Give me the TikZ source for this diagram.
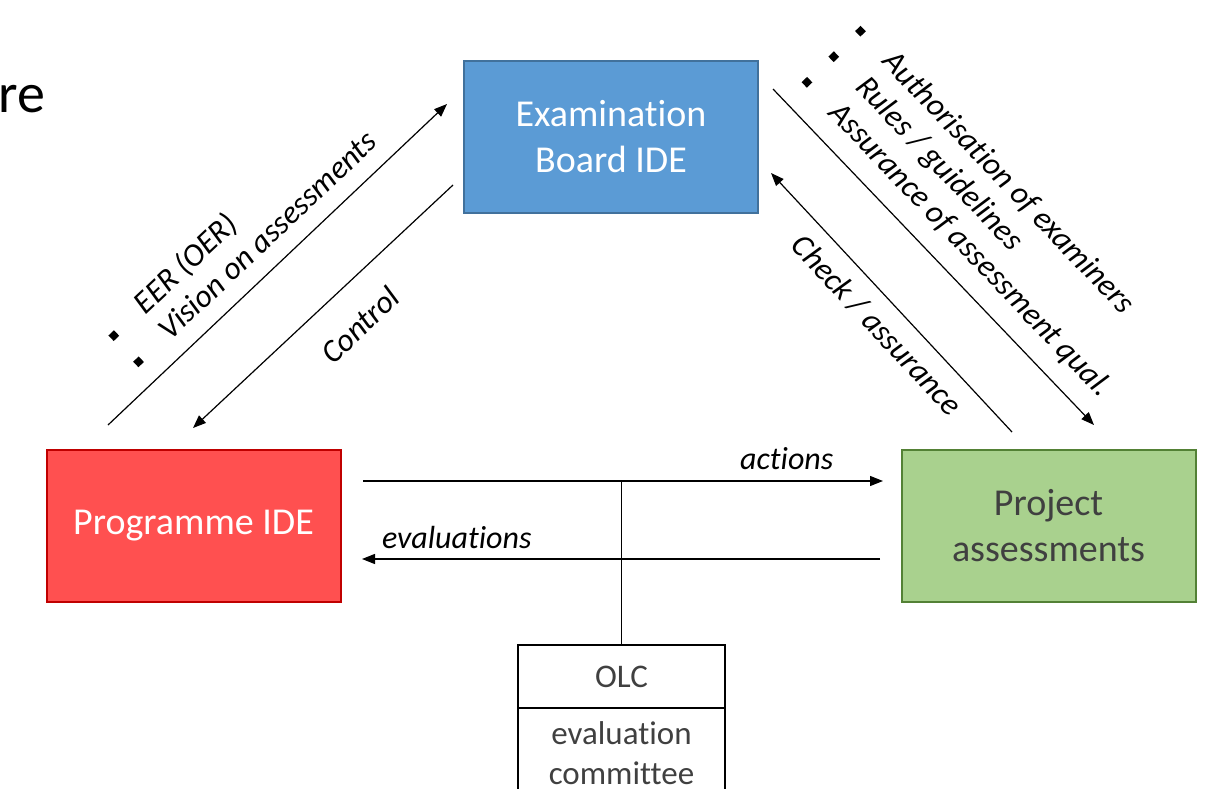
\documentclass[tikz,border=0pt]{standalone}
\usepackage{fontspec}
\setmainfont{Carlito}[Ligatures=NoCommon]
\usetikzlibrary{arrows.meta}

\definecolor{boardblue}{HTML}{5B9BD5}
\definecolor{boardline}{HTML}{41719C}
\definecolor{progred}{HTML}{FF5050}
\definecolor{progline}{HTML}{C00000}
\definecolor{projgreen}{HTML}{A9D18E}
\definecolor{projline}{HTML}{538135}
\definecolor{textgray}{HTML}{404040}

\newcommand{\bul}{\makebox[20.5pt][l]{\rule[1.6pt]{3.8pt}{3.8pt}}}

\begin{document}
\begin{tikzpicture}[x=0.5pt, y=-0.5pt, >={Triangle[length=6.5pt,width=5pt]},
    box/.style={draw, line width=1pt, minimum width=147pt, minimum height=76pt, inner sep=0pt, align=center, font=\fontsize{19}{23}\selectfont},
    olcbox/.style={draw, line width=1.2pt, minimum width=103.5pt, inner sep=0pt, outer sep=0pt, align=center, text=textgray, font=\fontsize{16.5}{20}\selectfont},
    lbl/.style={inner sep=0pt, font=\fontsize{16}{18}\selectfont\itshape},
    arr/.style={line width=0.6pt}]
    \useasboundingbox (0,0) rectangle (1214,788);
    \clip (0,0) rectangle (1214,788);
    \node[anchor=base west, inner sep=0pt, font=\fontsize{28}{30}\selectfont] (re) at (-2,112) {re}; % cut-off title

    % boxes
    \node[box, draw=boardline, fill=boardblue, text=white] (board) at (611,136.5) {Examination\\Board IDE};
    \node[box, draw=progline, fill=progred, text=white] (prog) at (193.5,526) {Programme IDE};
    \node[box, draw=projline, fill=projgreen, text=textgray] (proj) at (1048.5,526) {Project\\assessments};
    \node[olcbox, minimum height=31.5pt] (olc) at (621.5,676.5) {OLC};
    \node[olcbox, minimum height=45pt, anchor=north] (olcsub) at (olc.south) {evaluation\\committee};

    % arrow ends
    \coordinate (visA) at (108,425);  \coordinate (visB) at (447,104);
    \coordinate (ctlA) at (453,185);  \coordinate (ctlB) at (193,428);
    \coordinate (rulA) at (773,89);   \coordinate (rulB) at (1094,425);
    \coordinate (chkA) at (1012,432); \coordinate (chkB) at (771,173);
    \coordinate (actA) at (363,481);  \coordinate (actB) at (883,481);
    \coordinate (evaA) at (880,559);  \coordinate (evaB) at (362,559);
    \coordinate (junc) at (621.5,481);

    \draw[arr][->] (visA) -- (visB); % EER, vision
    \draw[arr][->] (ctlA) -- (ctlB); % control
    \draw[arr][->] (rulA) -- (rulB); % rules
    \draw[arr][->] (chkA) -- (chkB); % check
    \draw[arr][->] (actA) -- node[lbl, above=5.5pt, pos=0.815] (actlbl) {actions} (actB);
    \draw[arr][->] (evaA) -- node[lbl, above=5pt, pos=0.817] (evalbl) {evaluations} (evaB);
    \draw[arr] (olc.north) -- (junc); % link to OLC

    % sloped labels
    \node[lbl, rotate=43.4, anchor=base west] (eerlbl) at (115.6,343.6) {\bul EER (OER)};
    \node[lbl, rotate=43.4, anchor=base west] (vislbl) at (140.3,369.8) {\bul Vision on assessments};
    \node[lbl, rotate=43.4] (ctllbl) at (360,325) {Control};
    \node[lbl, rotate=-46.3, anchor=base west] (authlbl) at (852.5,33) {\bul Authorisation of examiners};
    \node[lbl, rotate=-46.3, anchor=base west] (rullbl) at (825.8,58.5) {\bul Rules / guidelines};
    \node[lbl, rotate=-46.3, anchor=base west] (asslbl) at (799,84.1) {\bul Assurance of assessment qual.};
    \node[lbl, rotate=-47] (chklbl) at (877,325) {Check / assurance};
\end{tikzpicture}
\end{document}
